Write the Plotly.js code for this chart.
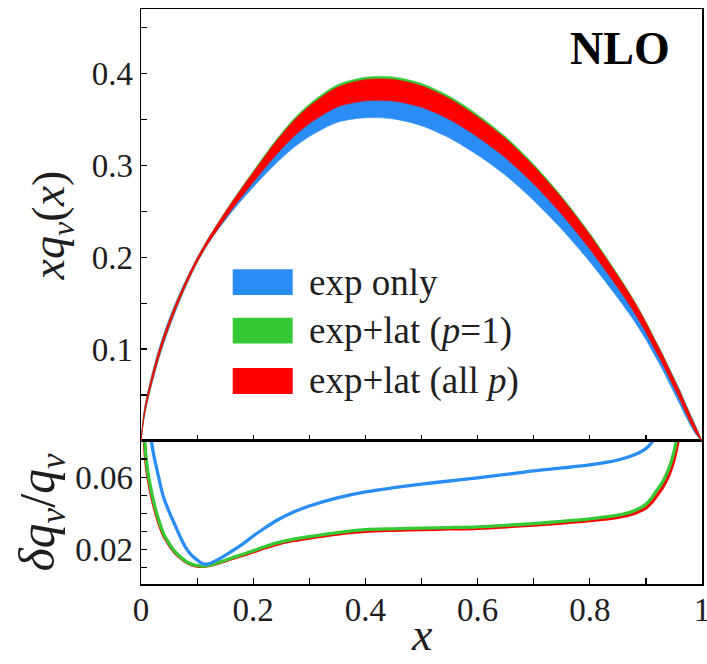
<!DOCTYPE html>
<html>
<head>
<meta charset="utf-8">
<script src="https://cdn.plot.ly/plotly-3.0.1.min.js"></script>
<style>
  html, body { margin: 0; padding: 0; background: #fff; }
  #chart { width: 707px; height: 664px; }
</style>
</head>
<body>
<div id="chart"></div>
<script>
// Momentum fraction grid
const xGrid = [0, 0.005, 0.01, 0.02, 0.03, 0.04, 0.05, 0.06, 0.07, 0.08, 0.09, 0.1, 0.11, 0.12, 0.14, 0.16, 0.18, 0.2,
  0.22, 0.24, 0.27, 0.3, 0.35, 0.4, 0.45, 0.5, 0.55, 0.6, 0.65, 0.7, 0.75, 0.8, 0.85, 0.875, 0.9, 0.91, 0.92, 0.93,
  0.94, 0.95, 0.96, 0.97, 0.98, 0.99, 1.0];

// Central x q_v(x) for each fit
const qvExp = [0, 0.0266, 0.0431, 0.0686, 0.0910, 0.1103, 0.1275, 0.1433, 0.1580, 0.1717, 0.1846, 0.1966, 0.2074, 0.2174,
  0.2356, 0.2526, 0.2686, 0.2839, 0.2988, 0.3129, 0.3316, 0.3465, 0.3644, 0.3709, 0.3705, 0.3635, 0.3499, 0.3308,
  0.3079, 0.2795, 0.2465, 0.2090, 0.1671, 0.1447, 0.1194, 0.1079, 0.0966, 0.0853, 0.0730, 0.0607, 0.0484, 0.0351,
  0.0222, 0.0104, 0];
const qvLatP1 = [0, 0.0266, 0.0431, 0.0686, 0.0910, 0.1103, 0.1275, 0.1433, 0.1580, 0.1717, 0.1846, 0.1966, 0.2077, 0.2180,
  0.2369, 0.2546, 0.2716, 0.2879, 0.3040, 0.3195, 0.3403, 0.3568, 0.3764, 0.3839, 0.3839, 0.3770, 0.3633, 0.3438,
  0.3203, 0.2910, 0.2569, 0.2179, 0.1742, 0.1508, 0.1244, 0.1125, 0.1007, 0.0889, 0.0761, 0.0633, 0.0505, 0.0366,
  0.0231, 0.0109, 0];
const qvLatAll = [0, 0.0266, 0.0431, 0.0686, 0.0910, 0.1103, 0.1275, 0.1433, 0.1580, 0.1717, 0.1846, 0.1966, 0.2076, 0.2178,
  0.2365, 0.2541, 0.2708, 0.2868, 0.3027, 0.3180, 0.3384, 0.3547, 0.3741, 0.3816, 0.3816, 0.3747, 0.3611, 0.3417,
  0.3184, 0.2893, 0.2554, 0.2166, 0.1732, 0.1499, 0.1237, 0.1118, 0.1001, 0.0884, 0.0756, 0.0629, 0.0502, 0.0364,
  0.0230, 0.0108, 0];

// Relative uncertainty delta q_v / q_v
const relExp = [0.30, 0.16, 0.115, 0.077, 0.062, 0.049, 0.041, 0.034, 0.027, 0.021, 0.017, 0.0143, 0.0122, 0.0121,
  0.0150, 0.0188, 0.0228, 0.0275, 0.0318, 0.0358, 0.0405, 0.0441, 0.0486, 0.0519, 0.0542, 0.0562, 0.0579, 0.0596,
  0.0615, 0.0635, 0.0651, 0.0668, 0.0695, 0.0718, 0.0758, 0.0790, 0.085, 0.095, 0.11, 0.13, 0.16, 0.20, 0.27, 0.40, 0.60];
const relLatP1 = [0.30, 0.09, 0.068, 0.050, 0.038, 0.029, 0.0235, 0.019, 0.016, 0.0135, 0.0120, 0.0111, 0.0109, 0.0113,
  0.0131, 0.0152, 0.0173, 0.0193, 0.0216, 0.0236, 0.0257, 0.0272, 0.0294, 0.0310, 0.0315, 0.0319, 0.0322, 0.0326,
  0.0334, 0.0344, 0.0356, 0.0370, 0.0390, 0.0410, 0.0450, 0.0485, 0.0530, 0.0575, 0.0640, 0.0740, 0.090, 0.12, 0.17,
  0.28, 0.50];
const relLatAll = [0.30, 0.086, 0.065, 0.048, 0.0365, 0.028, 0.0228, 0.0185, 0.0156, 0.0132, 0.0117, 0.0109, 0.0107, 0.0111,
  0.0128, 0.0148, 0.0168, 0.0187, 0.0209, 0.0228, 0.0249, 0.0264, 0.0286, 0.0301, 0.0307, 0.0311, 0.0314, 0.0318,
  0.0326, 0.0336, 0.0347, 0.0360, 0.0378, 0.0395, 0.0430, 0.0460, 0.0500, 0.0545, 0.0605, 0.0695, 0.085, 0.112, 0.16,
  0.26, 0.50];

const seriesNames = ['exp only', 'exp+lat (<i>p</i>=1)', 'exp+lat (all <i>p</i>)'];
const seriesColors = ['#2a8cf5', '#36c936', '#ff0000'];

// Tick labels
const xTickVals = [0, 0.2, 0.4, 0.6, 0.8, 1];
const xTickText = ['0', '0.2', '0.4', '0.6', '0.8', '1'];
const yTopTickVals = [0.1, 0.2, 0.3, 0.4];
const yTopTickText = ['0.1', '0.2', '0.3', '0.4'];
const yBotTickVals = [0.02, 0.06];
const yBotTickText = ['0.02', '0.06'];

const serif = 'Liberation Serif, serif';
const ink = '#1e1e1e';

const sets = [
  { c: qvExp, r: relExp },
  { c: qvLatP1, r: relLatP1 },
  { c: qvLatAll, r: relLatAll }
];

const traces = [];
// Error bands in the upper panel: exp only below, then p=1, then all p on top
sets.forEach((s, i) => {
  const lo = s.c.map((v, k) => v * (1 - s.r[k]));
  const hi = s.c.map((v, k) => v * (1 + s.r[k]));
  traces.push({
    x: xGrid, y: lo, xaxis: 'x2', yaxis: 'y2', mode: 'lines',
    line: { color: seriesColors[i], width: 0.6, shape: 'spline', smoothing: 0.8 },
    showlegend: false, hoverinfo: 'skip'
  });
  traces.push({
    x: xGrid, y: hi, xaxis: 'x2', yaxis: 'y2', mode: 'lines', fill: 'tonexty',
    fillcolor: seriesColors[i], name: seriesNames[i],
    line: { color: seriesColors[i], width: 0.6, shape: 'spline', smoothing: 0.8 },
    showlegend: false
  });
});

// Relative uncertainty curves in the lower panel
[2, 1, 0].forEach(i => {
  traces.push({
    x: xGrid, y: sets[i].r, xaxis: 'x', yaxis: 'y', mode: 'lines', name: seriesNames[i],
    line: { color: seriesColors[i], width: 3.3, shape: 'spline', smoothing: 0.8 },
    showlegend: false
  });
});

const axisCommon = {
  showline: true, mirror: true, linecolor: '#000', linewidth: 1.5,
  ticks: 'inside', ticklen: 6, tickwidth: 1.2, tickcolor: '#000',
  showgrid: false, zeroline: false, ticklabeloverflow: 'allow',
  tickfont: { family: serif, size: 33, color: ink }
};
const minorCommon = { ticks: 'inside', ticklen: 6, tickwidth: 1.2, tickcolor: '#000', showgrid: false };

const splitY = 0.2487;

const layout = {
  width: 707, height: 664,
  margin: { l: 141, r: 5, t: 9, b: 80 },
  paper_bgcolor: '#fff', plot_bgcolor: '#fff',
  showlegend: false,
  font: { family: serif },
  xaxis: Object.assign({}, axisCommon, {
    domain: [0, 1], range: [0, 1], anchor: 'y', ticklabelstandoff: -4,
    tickmode: 'array', tickvals: xTickVals, ticktext: xTickText,
    minor: Object.assign({ tickmode: 'array', tickvals: [0.1, 0.3, 0.5, 0.7, 0.9] }, minorCommon)
  }),
  yaxis: Object.assign({}, axisCommon, {
    domain: [0, splitY], range: [0.001, 0.08], anchor: 'x',
    tickmode: 'array', tickvals: yBotTickVals, ticktext: yBotTickText,
    minor: Object.assign({ tickmode: 'array', tickvals: [0.01, 0.03, 0.04, 0.05, 0.07] }, minorCommon),
    title: { text: '<i>δq</i><sub><i>v</i></sub>/<i>q</i><sub><i>v</i></sub>', font: { family: serif, size: 50, color: ink }, standoff: 4 }
  }),
  xaxis2: Object.assign({}, axisCommon, {
    domain: [0, 1], range: [0, 1], anchor: 'y2', matches: 'x',
    showticklabels: false,
    tickmode: 'array', tickvals: [0, 0.1, 0.2, 0.3, 0.4, 0.5, 0.6, 0.7, 0.8, 0.9, 1]
  }),
  yaxis2: Object.assign({}, axisCommon, {
    domain: [splitY, 1], range: [0, 0.47], anchor: 'x2',
    tickmode: 'array', tickvals: yTopTickVals, ticktext: yTopTickText,
    minor: Object.assign({ tickmode: 'array', tickvals: [0.05, 0.15, 0.25, 0.35, 0.45] }, minorCommon),
    title: { text: '<i>xq</i><sub><i>v</i></sub>(<i>x</i>)', font: { family: serif, size: 46, color: ink }, standoff: 12 }
  }),
  shapes: [],
  annotations: [
    // x-axis title under the lower panel
    { xref: 'paper', yref: 'paper', x: 0.5, y: -0.136, xanchor: 'center', yanchor: 'bottom',
      text: '<i>x</i>', showarrow: false, font: { family: serif, size: 46, color: ink } },
    { xref: 'paper', yref: 'paper', x: 0.854, y: 0.932, xanchor: 'center', yanchor: 'middle',
      text: '<b>NLO</b>', showarrow: false, font: { family: serif, size: 46, color: '#000' } }
  ]
};

// Hand-placed legend: wide colour swatches with labels
const swatchX0 = 0.1635, swatchX1 = 0.2704;
const rowCenters = [0.5250, 0.4406, 0.3530];
const swatchHalf = 0.0225;
[0, 1, 2].forEach(i => {
  layout.shapes.push({
    type: 'rect', xref: 'paper', yref: 'paper',
    x0: swatchX0, x1: swatchX1, y0: rowCenters[i] - swatchHalf, y1: rowCenters[i] + swatchHalf,
    fillcolor: seriesColors[i], line: { width: 0 }
  });
  layout.annotations.push({
    xref: 'paper', yref: 'paper', x: 0.296, y: rowCenters[i], xanchor: 'left', yanchor: 'middle',
    text: seriesNames[i], showarrow: false, font: { family: serif, size: 37, color: ink }
  });
});

Plotly.newPlot('chart', traces, layout, { displayModeBar: false, staticPlot: true });
</script>
</body>
</html>
